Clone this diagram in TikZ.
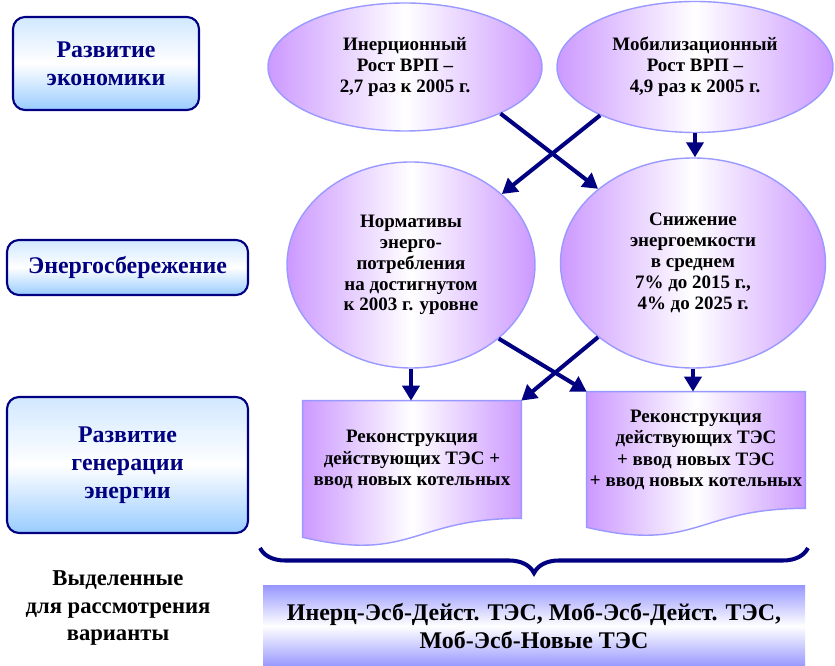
\documentclass[tikz,border=0pt]{standalone}
\usepackage{fontspec}
\setmainfont{Liberation Serif}
\usepackage{xcolor}
\usepackage{tikz}
\usetikzlibrary{shapes.geometric, arrows.meta, calc, backgrounds, decorations.pathreplacing}
\definecolor{navy}{RGB}{0,0,128}
\definecolor{skyb}{RGB}{153,204,255}
\definecolor{lilac}{RGB}{204,153,255}
\definecolor{rim}{RGB}{153,153,255}
\definecolor{peri}{RGB}{153,153,255}
\tikzstyle{level} = [rectangle, rounded corners=0.24cm, draw=navy, line width=1.2pt, top color=skyb!45!white, bottom color=skyb, middle color=white, text=navy, align=center, font=\bfseries\fontsize{13.6}{15.9}\selectfont]
\tikzstyle{scenario} = [ellipse, draw=rim, line width=0.8pt, left color=lilac, right color=lilac, middle color=white, inner sep=0pt, align=center, font=\bfseries\fontsize{10.8}{11.9}\selectfont]
\tikzstyle{plan} = [rectangle, inner sep=0pt, align=center, font=\bfseries\fontsize{10.8}{12.2}\selectfont]
\tikzstyle{planshape} = [draw=rim, line width=0.8pt, left color=lilac, right color=lilac, middle color=white]
\tikzstyle{arrow} = [navy, line width=2.3pt, -{Triangle[length=0.3cm,width=0.34cm]}]
\tikzstyle{bracket} = [navy, line width=2.3pt, decorate, decoration={brace, amplitude=0.5cm}]

\begin{document}
\begin{tikzpicture}
    \useasboundingbox (0,0) rectangle (16.7,-13.32);

    \node (econ) [level, minimum width=3.72cm, minimum height=1.86cm, xshift=2.12cm, yshift=-1.27cm] {Развитие\\экономики};

    \node (saving) [level, minimum width=4.82cm, minimum height=1.1cm, xshift=2.55cm, yshift=-5.35cm] {Энергосбережение};

    \node (generation) [level, minimum width=4.82cm, minimum height=2.72cm, xshift=2.55cm, yshift=-9.3cm] {Развитие\\генерации\\энергии};

    \node (selected) [align=center, font=\bfseries\fontsize{12.9}{15.6}\selectfont, xshift=2.36cm, yshift=-12.16cm] {Выделенные\\для рассмотрения\\варианты};

    \node (inert) [scenario, minimum width=5.48cm, minimum height=2.56cm, xshift=8.1cm, yshift=-1.34cm] {Инерционный\\Рост ВРП –\\2,7 раз к 2005 г.};

    \node (mobil) [scenario, minimum width=5.52cm, minimum height=2.62cm, xshift=13.9cm, yshift=-1.34cm] {Мобилизационный\\Рост ВРП –\\4,9 раз к 2005 г.};

    \node (norms) [scenario, minimum width=4.96cm, minimum height=4.12cm, xshift=8.22cm, yshift=-5.3cm] {Нормативы\\энерго-\\потребления\\на достигнутом\\к 2003 г. уровне};

    \node (intensity) [scenario, minimum width=5.3cm, minimum height=4.2cm, xshift=13.86cm, yshift=-5.26cm] {Снижение\\энергоемкости\\в среднем\\7\% до 2015 г.,\\4\% до 2025 г.};

    \node (rec_one) [plan, minimum width=4.36cm, minimum height=2.34cm, xshift=8.24cm, yshift=-9.19cm] {Реконструкция\\действующих ТЭС +\\ввод новых котельных};

    \node (rec_two) [plan, minimum width=4.36cm, minimum height=2.32cm, xshift=13.92cm, yshift=-9.0cm] {Реконструкция\\действующих ТЭС\\+ ввод новых ТЭС\\+ ввод новых котельных};

    \begin{scope}[on background layer]
    \draw[planshape] (rec_one.north west) -- (rec_one.north east) -- (rec_one.south east) .. controls (rec_one.south) and ([yshift=-0.89cm]rec_one.south) .. ([yshift=-0.38cm]rec_one.south west) -- cycle;
    \draw[planshape] (rec_two.north west) -- (rec_two.north east) -- (rec_two.south east) .. controls (rec_two.south) and ([yshift=-0.89cm]rec_two.south) .. ([yshift=-0.38cm]rec_two.south west) -- cycle;
    \end{scope}

    \node (variants) [rectangle, minimum width=10.84cm, minimum height=1.6cm, top color=peri, bottom color=peri, middle color=white, align=center, font=\bfseries\fontsize{13.6}{15.9}\selectfont, xshift=10.68cm, yshift=-12.52cm] {Инерц-Эсб-Дейст. ТЭС, Моб-Эсб-Дейст. ТЭС,\\Моб-Эсб-Новые ТЭС};

    \draw[arrow] (inert.-26) -- (intensity.142);
    \draw[arrow] (mobil.207) -- (norms.38);
    \draw[arrow] (mobil.south) -- (mobil.south |- intensity.north);

    \draw[arrow] (norms.south) -- (norms.south |- rec_one.north);
    \draw[arrow] (norms.-40) -- (rec_two.north west);
    \draw[arrow] (intensity.218) -- (rec_one.north east);
    \draw[arrow] (intensity.south) -- (intensity.south |- rec_two.north);

    \coordinate (brace_right) at (16.16,-10.96);
    \coordinate (brace_left) at (5.2,-10.96);
    \draw[bracket] (brace_right) -- (brace_left);
\end{tikzpicture}
\end{document}
